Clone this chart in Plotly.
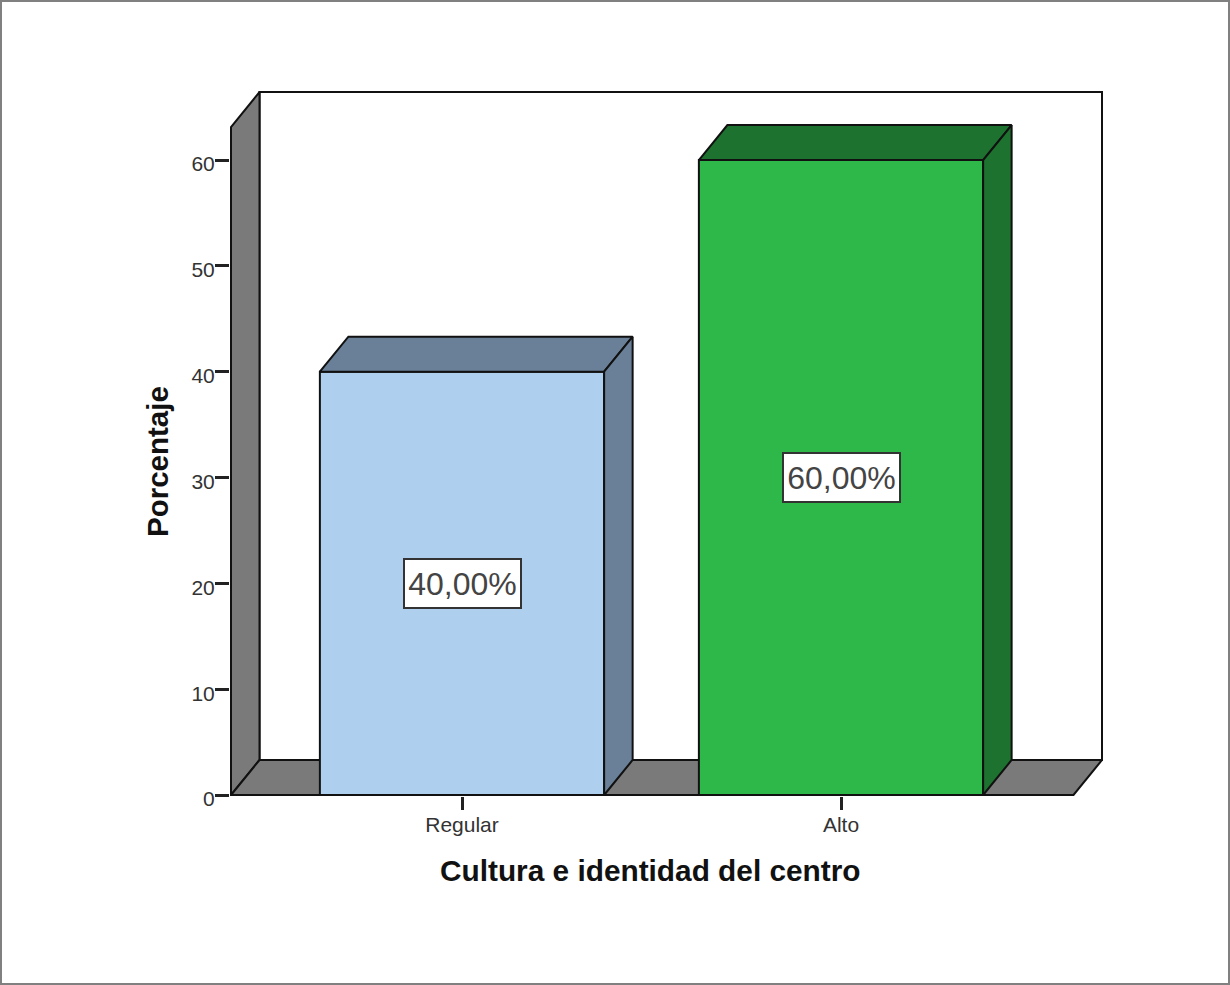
import plotly.graph_objects as go

CATEGORIES = ["Regular", "Alto"]
PERCENTS = [40, 60]
LABELS = ["40,00%", "60,00%"]
Y_TICKS = [0, 10, 20, 30, 40, 50, 60]
FRONT_COLORS = ["#AECFEE", "#2EB84A"]
DARK_COLORS = ["#6A8098", "#1C722E"]
X_TITLE = "Cultura e identidad del centro"
Y_TITLE = "Porcentaje"

WIDTH, HEIGHT = 1230, 985
# plot box in pixels: back wall right/top, floor front left/bottom
LEFT, RIGHT, TOP, BOTTOM = 231, 1102, 92, 795
PAD = 1  # spare room so the box outline is not clipped by the subplot
PX_PER_CAT = 379
PX_PER_UNIT = 10.583
FIRST_CAT_PX = 462
BAR_WIDTH = 0.75

x_min = (LEFT - FIRST_CAT_PX) / PX_PER_CAT
x_max = (RIGHT - FIRST_CAT_PX) / PX_PER_CAT
y_max = (BOTTOM - TOP) / PX_PER_UNIT
x_pad = PAD / PX_PER_CAT
y_pad = PAD / PX_PER_UNIT

# depth of the fake 3D box
dx = 28.5 / PX_PER_CAT
dy = 35 / PX_PER_UNIT

GRAY = "#7A7A7A"
EDGE = "#111111"
EDGE_W = 2


def poly(xs, ys, fill):
    path = "M " + " L ".join(f"{x},{y}" for x, y in zip(xs, ys)) + " Z"
    return dict(type="path", path=path, xref="x", yref="y", layer="below",
                fillcolor=fill, line=dict(color=EDGE, width=EDGE_W))


back_x = x_min + dx
front_r = x_max - dx
wall_top = y_max - dy

shapes = [
    # outer frame of the picture
    dict(type="rect", xref="paper", yref="paper", x0=0, x1=1, y0=0, y1=1,
         layer="below", fillcolor="white", line=dict(color="#808080", width=4)),
    # back wall, left wall, floor
    poly([back_x, x_max, x_max, back_x], [dy, dy, y_max, y_max], "white"),
    poly([x_min, back_x, back_x, x_min], [0, dy, y_max, wall_top], GRAY),
    poly([x_min, front_r, x_max, back_x], [0, 0, dy, dy], GRAY),
]

fig = go.Figure()

fig.add_trace(go.Bar(
    x=[0, 1], y=PERCENTS, width=BAR_WIDTH,
    marker=dict(color=FRONT_COLORS, line=dict(color=EDGE, width=EDGE_W)),
    cliponaxis=False, hoverinfo="skip",
))

# top and side faces of each bar
for i, val in enumerate(PERCENTS):
    x0 = i - BAR_WIDTH / 2
    x1 = i + BAR_WIDTH / 2
    fig.add_trace(go.Scatter(
        x=[x0, x0 + dx, x1 + dx, x1, x0], y=[val, val + dy, val + dy, val, val],
        mode="lines", fill="toself", fillcolor=DARK_COLORS[i],
        line=dict(color=EDGE, width=EDGE_W), cliponaxis=False, hoverinfo="skip",
    ))
    fig.add_trace(go.Scatter(
        x=[x1, x1 + dx, x1 + dx, x1, x1], y=[0, dy, val + dy, val, 0],
        mode="lines", fill="toself", fillcolor=DARK_COLORS[i],
        line=dict(color=EDGE, width=EDGE_W), cliponaxis=False, hoverinfo="skip",
    ))

annotations = [
    dict(x=i, y=val / 2, xref="x", yref="y", text=LABELS[i], showarrow=False,
         font=dict(family="Liberation Sans", size=32, color="#444444"),
         bgcolor="white", bordercolor="#333333", borderwidth=2,
         width=113, height=45)
    for i, val in enumerate(PERCENTS)
]

# axis titles sit on the front of the box, not the middle of the plot area
annotations.append(dict(
    x=650 / WIDTH, y=1 - 870 / HEIGHT, xref="paper", yref="paper",
    xanchor="center", yanchor="middle",
    text=f"<b>{X_TITLE}</b>", showarrow=False,
    font=dict(size=29.8, color="#111111"),
))
annotations.append(dict(
    x=157 / WIDTH, y=1 - 462 / HEIGHT, xref="paper", yref="paper",
    xanchor="center", yanchor="middle",
    text=f"<b>{Y_TITLE}</b>", showarrow=False, textangle=-90,
    font=dict(size=29.5, color="#111111"),
))

fig.update_layout(
    width=WIDTH, height=HEIGHT,
    margin=dict(l=0, r=0, t=0, b=0),
    paper_bgcolor="white", plot_bgcolor="rgba(0,0,0,0)",
    showlegend=False,
    font=dict(family="Liberation Sans", color="#222222"),
    shapes=shapes,
    annotations=annotations,
    xaxis=dict(
        domain=[(LEFT - PAD) / WIDTH, (RIGHT + PAD) / WIDTH],
        range=[x_min - x_pad, x_max + x_pad],
        automargin=False,
        tickmode="array", tickvals=[0, 1], ticktext=CATEGORIES,
        ticks="outside", ticklen=13, tickwidth=2.5, tickcolor="#222222",
        tickfont=dict(size=21, color="#333333"),
        ticklabelstandoff=-3,
        showgrid=False, zeroline=False, showline=False,
    ),
    yaxis=dict(
        domain=[1 - (BOTTOM + PAD) / HEIGHT, 1 - (TOP - PAD) / HEIGHT],
        range=[-y_pad, y_max + y_pad],
        automargin=False,
        tickmode="array", tickvals=Y_TICKS,
        ticks="outside", ticklen=14, tickwidth=2.5, tickcolor="#222222",
        tickfont=dict(size=21, color="#333333"),
        ticklabelstandoff=-4, ticklabelshift=4,
        showgrid=False, zeroline=False, showline=False,
    ),
)

fig.write_html("out.html", config=dict(displayModeBar=False),
               post_script="document.body.style.margin='0';")
